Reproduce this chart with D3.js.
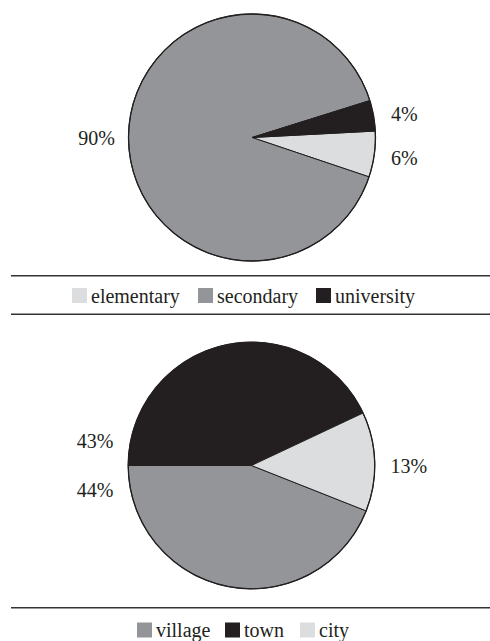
<!DOCTYPE html>
<html>
<head>
<meta charset="utf-8">
<script src="https://cdn.jsdelivr.net/npm/d3@7"></script>
<style>
  body { margin: 0; background: #fff; }
  svg text { font-family: "Liberation Serif", "DejaVu Serif", serif; fill: #231f20; }
</style>
</head>
<body>
<div id="chart"></div>
<script>
// data for the education pie
const eduCategories = ["elementary", "secondary", "university"];
const eduValues = [6, 90, 4];
const eduLabels = ["6%", "90%", "4%"];

// data for the residence pie
const resCategories = ["village", "town", "city"];
const resValues = [44, 43, 13];
const resLabels = ["44%", "43%", "13%"];

const colors = {
  elementary: "#dcdddf", secondary: "#939598", university: "#231f20",
  village: "#939598", town: "#231f20", city: "#dcdddf"
};

const width = 490, height = 641;
const svg = d3.select("#chart").append("svg")
  .attr("width", width)
  .attr("height", height);

const deg = Math.PI / 180;

// draws one pie + its legend band
function drawPie(cats, vals, labels, opts) {
  const g = svg.append("g")
    .attr("transform", `translate(${opts.cx},${opts.cy})`);

  const pie = d3.pie()
    .sort(null)
    .startAngle(opts.start * deg)
    .endAngle((opts.start + 360) * deg);
  const arcs = pie(vals);
  const arc = d3.arc().innerRadius(0).outerRadius(opts.r);

  g.selectAll("path.slice")
    .data(arcs)
    .join("path")
    .attr("class", "slice")
    .attr("d", arc)
    .attr("fill", (d, i) => colors[cats[i]])
    .attr("stroke", "#231f20")
    .attr("stroke-width", 1);

  g.append("circle")
    .attr("r", opts.r)
    .attr("fill", "none")
    .attr("stroke", "#231f20")
    .attr("stroke-width", 1.3);

  // percent labels, placed by hand-read positions
  g.selectAll("text.pct")
    .data(labels)
    .join("text")
    .attr("class", "pct")
    .attr("x", (d, i) => opts.labelPos[i][0])
    .attr("y", (d, i) => opts.labelPos[i][1])
    .attr("text-anchor", (d, i) => opts.labelPos[i][0] < 0 ? "end" : "start")
    .attr("dominant-baseline", "central")
    .style("font-size", "20px")
    .text(d => d);

  // legend rules
  opts.rules.forEach(y => {
    svg.append("line")
      .attr("x1", 11).attr("x2", width)
      .attr("y1", y).attr("y2", y)
      .attr("stroke", "#333")
      .attr("stroke-width", 1.4);
  });

  const leg = svg.append("g");
  cats.forEach((c, i) => {
    const x = opts.legendX[i];
    leg.append("rect")
      .attr("x", x).attr("y", opts.legendY - 7.5)
      .attr("width", 15).attr("height", 15)
      .attr("fill", colors[c]);
    leg.append("text")
      .attr("x", x + 19)
      .attr("y", opts.legendY)
      .attr("dominant-baseline", "central")
      .style("font-size", "20px")
      .text(c);
  });
}

drawPie(eduCategories, eduValues, eduLabels, {
  cx: 252, cy: 137.5, r: 123.5, start: 87,
  labelPos: [[139, 20], [-137, 0], [139, -24]],
  rules: [275.7, 314.3],
  legendX: [72, 198, 316],
  legendY: 295.5
});

drawPie(resCategories, resValues, resLabels, {
  cx: 251.5, cy: 465.5, r: 123.3, start: 111.6,
  labelPos: [[-138, 24], [-138, -25], [139, 0]],
  rules: [607.7],
  legendX: [137, 225, 300],
  legendY: 630
});
</script>
</body>
</html>
